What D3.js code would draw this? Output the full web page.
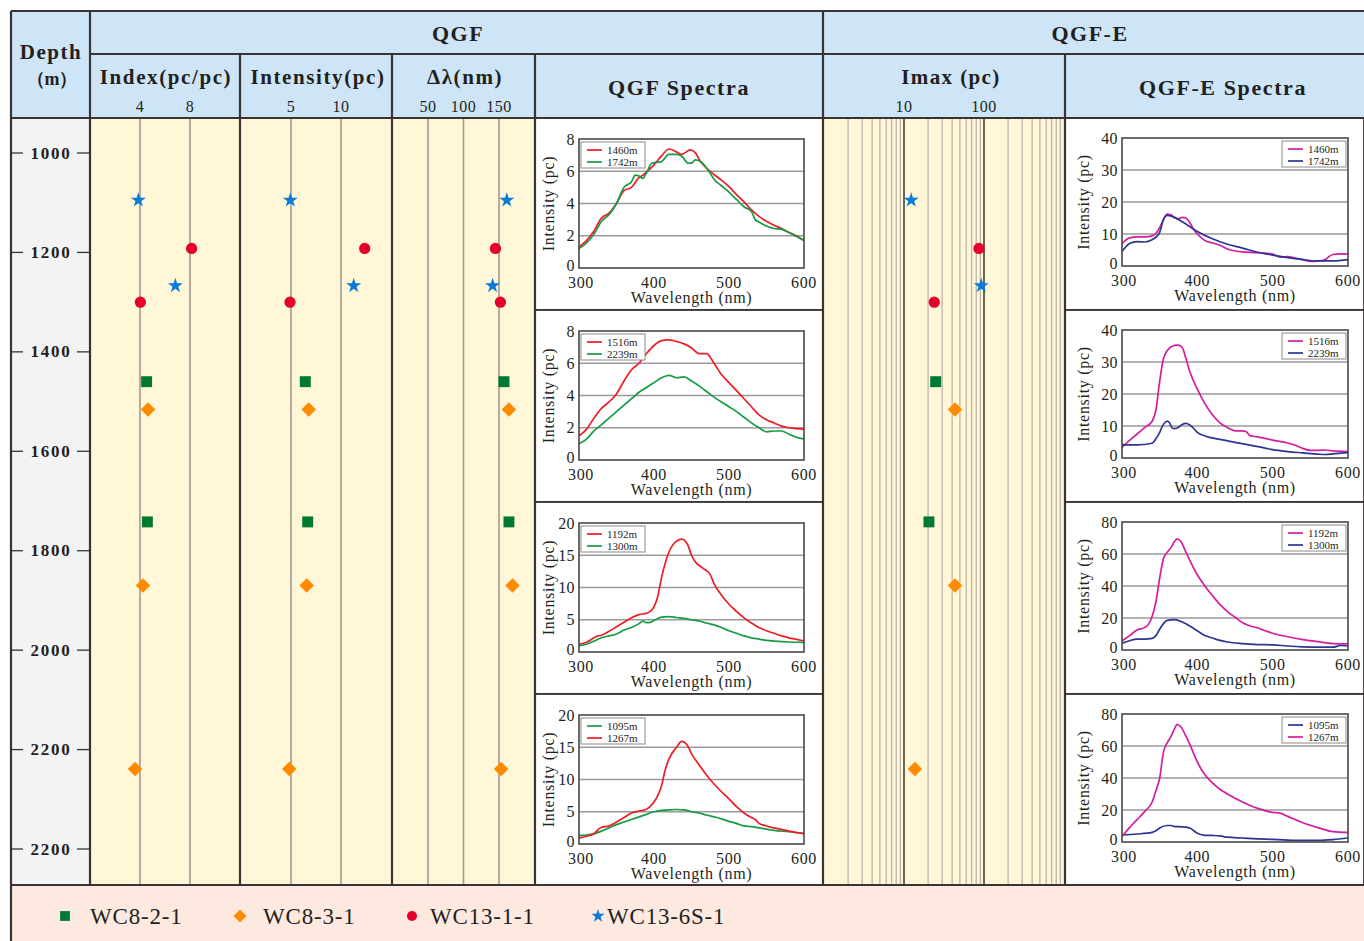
<!DOCTYPE html>
<html><head><meta charset="utf-8">
<script src="https://cdn.jsdelivr.net/npm/d3@7"></script>
<style>
body{margin:0;background:#fff}
svg{display:block}
text{font-family:"Liberation Serif","Times New Roman",serif;fill:#231f20}
</style>
</head><body>
<svg id="chart" width="1364" height="941"></svg>
<script>
// ---------- sample points (depth in m) ----------
const samples = ["WC8-2-1", "WC8-3-1", "WC13-1-1", "WC13-6S-1"];
const depths = [1095, 1192, 1267, 1300, 1460, 1516, 1742, 1870, 2239];
const pointSample = ["WC13-6S-1", "WC13-1-1", "WC13-6S-1", "WC13-1-1", "WC8-2-1", "WC8-3-1", "WC8-2-1", "WC8-3-1", "WC8-3-1"];
const indexValues = [3.87, 8.13, 6.83, 4.03, 4.53, 4.64, 4.59, 4.24, 3.6];
const intensityValues = [4.93, 12.37, 11.27, 4.9, 6.43, 6.77, 6.67, 6.57, 4.83];
const deltaLambdaValues = [161, 145, 141, 152, 157, 164, 164, 169, 153];
const imaxValues = [12.3, 86.6, 92.5, 23.9, 24.9, 43.4, 20.5, 43.4, 13.7];

// ---------- tick labels ----------
const depthTicks = [1000, 1200, 1400, 1600, 1800, 2000, 2200, 2400];
const depthTickLabels = ["1000", "1200", "1400", "1600", "1800", "2000", "2200", "2200"];
const indexTicks = [4, 8];
const intensityTicks = [5, 10];
const deltaLambdaTicks = [50, 100, 150];
const imaxTicks = [10, 100];
const wavelengthTicks = [300, 400, 500, 600];

// ---------- QGF spectra [wavelength nm, intensity pc] ----------
const qgf1460 = [[300,1.3],[310,1.7],[320,2.3],[330,3.1],[340,3.4],[350,4.0],[360,4.8],[370,5.0],[380,5.6],[385,5.75],[390,5.95],[400,6.4],[410,6.95],[420,7.38],[430,7.2],[437,7.05],[443,7.2],[448,7.32],[455,7.15],[462,6.6],[470,6.2],[480,5.8],[490,5.45],[500,5.04],[510,4.55],[520,4.1],[530,3.6],[540,3.2],[550,2.9],[560,2.65],[570,2.45],[580,2.2],[590,2.0],[600,1.7]];
const qgf1742 = [[300,1.2],[310,1.55],[320,2.1],[330,2.9],[340,3.3],[350,4.0],[360,5.0],[370,5.35],[375,5.76],[380,5.7],[385,5.55],[390,5.9],[397,6.5],[404,6.55],[410,6.6],[420,7.05],[430,7.05],[438,6.9],[445,6.5],[450,6.5],[455,6.7],[462,6.6],[470,6.2],[475,5.87],[480,5.5],[490,5.1],[500,4.7],[510,4.25],[520,3.8],[530,3.5],[535,3.0],[540,2.85],[550,2.6],[560,2.45],[570,2.4],[580,2.2],[590,1.95],[600,1.7]];
const qgf1516 = [[300,1.5],[310,1.9],[320,2.6],[330,3.2],[340,3.6],[350,4.1],[360,4.9],[370,5.6],[380,6.0],[390,6.6],[400,7.1],[410,7.4],[420,7.45],[430,7.35],[440,7.2],[450,6.95],[460,6.6],[470,6.6],[480,6.0],[490,5.3],[500,4.8],[510,4.3],[520,3.8],[530,3.3],[540,2.8],[550,2.5],[560,2.3],[570,2.1],[580,2.0],[590,1.95],[600,1.9]];
const qgf2239 = [[300,1.0],[310,1.3],[320,1.8],[330,2.2],[340,2.6],[350,3.0],[360,3.4],[370,3.8],[380,4.2],[390,4.5],[400,4.8],[410,5.1],[420,5.25],[430,5.1],[440,5.15],[450,4.9],[460,4.6],[470,4.25],[480,3.9],[490,3.6],[500,3.3],[510,3.0],[520,2.65],[530,2.3],[540,2.0],[550,1.75],[560,1.8],[570,1.8],[580,1.6],[590,1.4],[600,1.3]];
const qgf1192 = [[300,1.2],[310,1.5],[320,2.2],[325,2.5],[330,2.6],[340,3.2],[350,3.9],[360,4.6],[370,5.3],[380,5.8],[390,6.0],[395,6.3],[400,7.0],[405,8.6],[410,11.5],[415,13.8],[420,15.5],[430,17.2],[437,17.5],[445,16.6],[450,15.0],[455,14.0],[465,13.0],[475,12.0],[480,10.6],[490,8.8],[500,7.4],[510,6.3],[520,5.3],[530,4.5],[540,3.8],[550,3.3],[560,2.9],[570,2.5],[580,2.2],[590,1.95],[600,1.7]];
const qgf1300 = [[300,1.0],[310,1.2],[320,1.7],[330,2.2],[340,2.5],[350,2.8],[360,3.4],[370,3.8],[380,4.4],[385,4.8],[390,4.55],[395,4.6],[400,4.9],[410,5.4],[420,5.5],[430,5.35],[440,5.2],[450,5.0],[460,4.8],[470,4.5],[480,4.2],[490,3.8],[500,3.3],[510,2.9],[520,2.5],[530,2.2],[540,2.0],[550,1.8],[560,1.7],[580,1.55],[600,1.5]];
const qgf1095 = [[300,1.3],[310,1.4],[320,1.6],[330,2.0],[340,2.5],[350,3.0],[360,3.4],[370,3.8],[380,4.2],[390,4.6],[400,5.0],[410,5.2],[420,5.3],[430,5.35],[440,5.3],[450,5.0],[460,4.8],[470,4.5],[480,4.2],[490,3.9],[500,3.5],[510,3.2],[520,2.8],[530,2.7],[540,2.5],[550,2.3],[560,2.1],[580,1.9],[600,1.6]];
const qgf1267 = [[300,0.9],[310,1.2],[320,1.6],[325,2.2],[330,2.6],[340,2.8],[350,3.4],[360,4.1],[370,4.8],[380,5.1],[390,5.4],[400,6.5],[405,7.5],[410,9.0],[415,11.5],[420,13.2],[430,15.0],[437,15.9],[445,15.2],[450,14.0],[460,12.3],[470,10.7],[480,9.3],[490,8.1],[500,7.0],[510,5.8],[520,4.8],[530,4.1],[535,3.8],[540,3.2],[550,2.8],[560,2.5],[580,2.0],[600,1.6]];

// ---------- QGF-E spectra [wavelength nm, intensity pc] ----------
const qgfe1460 = [[300,7.0],[310,8.8],[320,9.1],[330,9.1],[340,9.4],[345,10.2],[350,12.0],[355,14.5],[360,16.2],[365,16.0],[370,15.0],[375,14.8],[380,15.2],[385,15.0],[390,13.5],[395,11.5],[400,10.0],[410,8.0],[420,7.2],[430,6.5],[440,5.3],[450,4.7],[460,4.4],[480,4.2],[490,4.0],[500,3.7],[510,2.8],[520,2.9],[530,2.5],[540,2.0],[550,1.4],[560,1.5],[570,2.0],[575,3.0],[580,3.6],[590,3.8],[600,3.7]];
const qgfe1742 = [[300,4.5],[310,7.0],[320,7.6],[330,7.5],[340,8.2],[345,9.0],[350,10.5],[355,14.5],[360,15.8],[370,15.2],[380,13.8],[390,12.3],[400,10.8],[420,8.5],[440,6.8],[460,5.6],[480,4.3],[500,3.4],[520,2.6],[540,2.0],[560,1.6],[580,1.6],[600,2.0]];
const qgfe1516 = [[300,3.3],[310,5.5],[320,7.5],[330,9.5],[340,11.5],[345,15.0],[350,24.0],[355,31.0],[360,33.5],[370,35.2],[375,35.3],[380,34.5],[385,31.0],[390,27.0],[400,21.5],[410,17.0],[420,13.5],[430,11.0],[440,9.5],[450,8.5],[460,8.5],[465,8.2],[470,7.0],[480,6.6],[500,5.6],[520,4.7],[530,4.0],[540,3.0],[550,2.4],[560,2.4],[570,2.5],[580,2.2],[600,2.0]];
const qgfe2239 = [[300,4.2],[320,4.1],[340,4.6],[345,6.0],[350,8.0],[355,10.5],[360,11.5],[363,11.0],[367,9.3],[370,9.2],[375,9.6],[380,10.5],[385,10.8],[390,10.3],[395,9.3],[400,8.0],[410,6.9],[430,5.8],[450,4.9],[470,4.0],[490,3.1],[500,2.6],[520,2.0],[540,1.6],[560,1.2],[570,1.1],[580,1.3],[600,1.7]];
const qgfe1192 = [[300,5.6],[310,9.0],[320,12.5],[330,14.0],[335,16.0],[340,21.0],[345,30.0],[350,45.0],[355,57.0],[360,61.0],[365,64.0],[370,68.0],[373,69.5],[378,68.0],[385,61.0],[390,56.0],[400,47.0],[410,40.0],[420,34.0],[430,28.5],[440,24.0],[450,20.5],[460,17.0],[470,15.0],[480,13.8],[490,12.0],[500,10.5],[520,8.3],[540,6.5],[560,5.2],[580,4.0],[600,3.8]];
const qgfe1300 = [[300,4.2],[310,5.8],[320,6.8],[330,6.8],[340,7.3],[345,9.0],[350,13.0],[355,16.5],[360,18.5],[370,19.0],[380,17.5],[390,15.0],[400,12.0],[410,9.0],[420,7.5],[430,6.0],[440,5.0],[460,4.0],[480,3.4],[500,3.2],[520,2.5],[540,2.0],[560,1.8],[580,1.8],[590,2.8],[600,2.5]];
const qgfe1095 = [[300,4.5],[320,5.0],[340,6.0],[345,7.0],[350,8.8],[360,10.3],[365,10.3],[370,9.6],[380,9.5],[385,9.3],[390,8.7],[400,5.5],[410,4.2],[420,4.1],[430,3.8],[440,3.0],[460,2.5],[480,2.0],[500,1.6],[520,1.2],[540,1.0],[560,1.0],[580,1.5],[600,2.5]];
const qgfe1267 = [[300,3.5],[310,9.0],[320,14.0],[330,19.0],[340,25.0],[345,32.0],[350,40.0],[355,56.0],[360,62.0],[365,66.0],[370,71.0],[373,73.5],[378,72.0],[385,66.0],[390,61.0],[400,50.0],[410,42.0],[420,37.0],[430,33.0],[440,30.0],[460,25.0],[480,21.0],[500,18.5],[510,18.0],[520,16.0],[540,12.0],[560,9.0],[580,6.5],[600,6.0]];

// ---------- palette ----------
const colHeader = "#cde5f7", colCream = "#fff7d7", colLegend = "#fde9df", colDepthBg = "#f3f3f3";
const ink = "#3a3333";
const sampleColor = {"WC8-2-1": "#007a33", "WC8-3-1": "#ff8a00", "WC13-1-1": "#e4002b", "WC13-6S-1": "#0a7bd8"};
const red = "#ee1d25", green = "#159a45", magenta = "#d61d9e", navy = "#2c3592";

const svg = d3.select("#chart");

// ---------- layout ----------
const X = {depth: [11, 90], index: [90, 240], inten: [240, 392], dl: [392, 535], qspec: [535, 823], imax: [823, 1065], espec: [1065, 1364]};
const yTop = 11, yRow1 = 54, yHead = 118, yBody = 885, yEnd = 941;

// backgrounds
svg.append("rect").attr("x", 11).attr("y", yTop).attr("width", 1353).attr("height", yHead - yTop).attr("fill", colHeader);
svg.append("rect").attr("x", X.depth[0]).attr("y", yHead).attr("width", X.depth[1] - X.depth[0]).attr("height", yBody - yHead).attr("fill", colDepthBg);
svg.append("rect").attr("x", X.index[0]).attr("y", yHead).attr("width", X.dl[1] - X.index[0]).attr("height", yBody - yHead).attr("fill", colCream);
svg.append("rect").attr("x", X.imax[0]).attr("y", yHead).attr("width", X.imax[1] - X.imax[0]).attr("height", yBody - yHead).attr("fill", colCream);
svg.append("rect").attr("x", 11).attr("y", yBody).attr("width", 1353).attr("height", yEnd - yBody).attr("fill", colLegend);

// ---------- scales ----------
const yDepth = d3.scaleLinear().domain([1000, 2400]).range([153, 849]);
const xIndex = d3.scaleLinear().domain([0, 12]).range([90, 240]);
const xInten = d3.scaleLinear().domain([0, 15]).range([241, 391]);
const xDl = d3.scaleLinear().domain([0, 200]).range([392.5, 534.5]);
const xImax = d3.scaleLog().domain([1, 1000]).range([824, 1064]);

// ---------- grid lines in the property columns ----------
const grid = svg.append("g");
function vgrid(scale, values, color, width) {
  grid.selectAll(null).data(values).enter().append("line")
    .attr("x1", d => scale(d)).attr("x2", d => scale(d))
    .attr("y1", yHead).attr("y2", yBody)
    .attr("stroke", color).attr("stroke-width", width);
}
vgrid(xIndex, indexTicks, "#a09a92", 1.6);
vgrid(xInten, intensityTicks, "#a09a92", 1.6);
vgrid(xDl, deltaLambdaTicks, "#a09a92", 1.6);
const imaxMinor = [];
[1, 10, 100].forEach(dec => { for (let m = 2; m <= 9; m++) imaxMinor.push(m * dec); });
vgrid(xImax, imaxMinor, "#bdb5a6", 1.3);
vgrid(xImax, imaxTicks, "#5a5450", 1.8);

// ---------- header text ----------
const head = svg.append("g");
function htext(x, y, s, size, bold, spacing) {
  head.append("text").attr("x", x).attr("y", y).attr("text-anchor", "middle")
    .attr("font-size", size).attr("font-weight", bold ? "bold" : "normal")
    .attr("letter-spacing", spacing || 0).text(s);
}
htext(51, 59, "Depth", 21, true, 1.5);
htext(52, 85, "（m）", 18, true, 0);
htext(458, 41, "QGF", 22, true, 1.5);
htext(1090, 41, "QGF-E", 22, true, 1.5);
htext(166, 84, "Index(pc/pc)", 21, true, 1.6);
htext(318, 84, "Intensity(pc)", 21, true, 1.6);
htext(465, 84, "Δλ(nm)", 21, true, 1.6);
htext(679, 95, "QGF Spectra", 22, true, 1.6);
htext(951, 84, "Imax (pc)", 21, true, 1.4);
htext(1223, 95, "QGF-E Spectra", 22, true, 1.6);
function htick(scale, values) {
  values.forEach(v => htext(scale(v), 112, String(v), 16, false, 0.5));
}
htick(xIndex, indexTicks);
htick(xInten, intensityTicks);
htick(xDl, deltaLambdaTicks);
htick(xImax, imaxTicks);

// ---------- depth axis ----------
const dAxis = svg.append("g");
depthTicks.forEach((d, i) => {
  const y = yDepth(d);
  dAxis.append("line").attr("x1", 12).attr("x2", 23).attr("y1", y).attr("y2", y).attr("stroke", ink).attr("stroke-width", 1.3);
  dAxis.append("line").attr("x1", 77).attr("x2", 90).attr("y1", y).attr("y2", y).attr("stroke", ink).attr("stroke-width", 1.3);
  dAxis.append("text").attr("x", 51).attr("y", y + 5.5).attr("text-anchor", "middle")
    .attr("font-size", 17).attr("font-weight", "bold").attr("letter-spacing", 1.8).text(depthTickLabels[i]);
});

// ---------- sample markers ----------
const symType = {"WC8-2-1": d3.symbolSquare, "WC8-3-1": d3.symbolSquare, "WC13-1-1": d3.symbolCircle, "WC13-6S-1": d3.symbolStar};
const symSize = {"WC8-2-1": 120, "WC8-3-1": 105, "WC13-1-1": 100, "WC13-6S-1": 70};
const symRot = {"WC8-2-1": 0, "WC8-3-1": 45, "WC13-1-1": 0, "WC13-6S-1": 0};
function drawMarkers(scale, values, scaleFactor) {
  const g = svg.append("g");
  depths.forEach((d, i) => {
    const s = pointSample[i];
    g.append("path")
      .attr("d", d3.symbol().type(symType[s]).size(symSize[s] * (scaleFactor || 1))())
      .attr("transform", `translate(${scale(values[i])},${yDepth(d)}) rotate(${symRot[s]})`)
      .attr("fill", sampleColor[s]);
  });
}
drawMarkers(xIndex, indexValues);
drawMarkers(xInten, intensityValues);
drawMarkers(xDl, deltaLambdaValues);
drawMarkers(xImax, imaxValues);

// ---------- spectra panels ----------
const panelBounds = [[118, 310], [310, 502], [502, 694], [694, 885]];
function spectraPanel(col, bi, cfg) {
  const [px0, px1] = X[col];
  const [py0, py1] = panelBounds[bi];
  const g = svg.append("g");
  g.append("rect").attr("x", px0).attr("y", py0).attr("width", px1 - px0).attr("height", py1 - py0)
    .attr("fill", "#fff").attr("stroke", ink).attr("stroke-width", 1.8);
  const left = px0 + cfg.left, right = px0 + cfg.right, top = py0 + cfg.top, bottom = py0 + cfg.bottom;
  const x = d3.scaleLinear().domain([300, 600]).range([left, right]);
  const y = d3.scaleLinear().domain([0, cfg.yTicks[cfg.yTicks.length - 1]]).range([bottom, top]);
  // horizontal grid
  g.selectAll(null).data(cfg.yTicks.slice(1, -1)).enter().append("line")
    .attr("x1", left).attr("x2", right).attr("y1", d => y(d)).attr("y2", d => y(d))
    .attr("stroke", "#9a9a9a").attr("stroke-width", 1.5);
  // curves
  const line = d3.line().x(d => x(d[0])).y(d => y(d[1])).curve(d3.curveMonotoneX);
  cfg.series.forEach(s => {
    g.append("path").attr("d", line(s.data)).attr("fill", "none").attr("stroke", s.color).attr("stroke-width", 1.7);
  });
  // plot frame
  g.append("rect").attr("x", left).attr("y", top).attr("width", right - left).attr("height", bottom - top)
    .attr("fill", "none").attr("stroke", "#4a4646").attr("stroke-width", 1.6);
  // tick labels (the zero label sits a little high so it clears the 300 label)
  cfg.yTicks.forEach(t => g.append("text").attr("x", left - 4).attr("y", y(t) + (t === 0 ? 3 : 5.5)).attr("text-anchor", "end")
    .attr("font-size", 16).attr("letter-spacing", 0.4).text(t));
  wavelengthTicks.forEach(t => g.append("text").attr("x", x(t) + (t === 300 ? 2 : 0)).attr("y", bottom + 20)
    .attr("text-anchor", "middle").attr("font-size", 16).attr("letter-spacing", 0.6).text(t));
  g.append("text").attr("x", (left + right) / 2).attr("y", bottom + 35).attr("text-anchor", "middle")
    .attr("font-size", 16).attr("letter-spacing", 0.7).text("Wavelength (nm)");
  g.append("text").attr("transform", `translate(${left - cfg.ylabOff},${(top + bottom) / 2}) rotate(-90)`)
    .attr("text-anchor", "middle").attr("font-size", 16).attr("letter-spacing", 0.7).text("Intensity (pc)");
  // legend box
  const lw = 64, lh = 26;
  const lx = cfg.legendRight ? right - lw - 2 : left + 2, ly = top + 3;
  g.append("rect").attr("x", lx).attr("y", ly).attr("width", lw).attr("height", lh)
    .attr("fill", "#fff").attr("stroke", "#8a8a8a").attr("stroke-width", 1);
  cfg.series.forEach((s, i) => {
    const yy = ly + 8 + i * 12;
    g.append("line").attr("x1", lx + 6).attr("x2", lx + 21).attr("y1", yy).attr("y2", yy)
      .attr("stroke", s.color).attr("stroke-width", 1.7);
    g.append("text").attr("x", lx + 26).attr("y", yy + 3.8).attr("font-size", 11).text(s.label);
  });
}
const qCfg = {left: 44, right: 269, top: 21, bottom: 150, ylabOff: 25, legendRight: false};
const eCfg = {left: 57, right: 283, top: 20, bottom: 148, ylabOff: 33, legendRight: true};
spectraPanel("qspec", 0, {...qCfg, yTicks: [0, 2, 4, 6, 8], series: [{data: qgf1460, color: red, label: "1460m"}, {data: qgf1742, color: green, label: "1742m"}]});
spectraPanel("qspec", 1, {...qCfg, yTicks: [0, 2, 4, 6, 8], series: [{data: qgf1516, color: red, label: "1516m"}, {data: qgf2239, color: green, label: "2239m"}]});
spectraPanel("qspec", 2, {...qCfg, yTicks: [0, 5, 10, 15, 20], series: [{data: qgf1192, color: red, label: "1192m"}, {data: qgf1300, color: green, label: "1300m"}]});
spectraPanel("qspec", 3, {...qCfg, yTicks: [0, 5, 10, 15, 20], series: [{data: qgf1095, color: green, label: "1095m"}, {data: qgf1267, color: red, label: "1267m"}]});
spectraPanel("espec", 0, {...eCfg, yTicks: [0, 10, 20, 30, 40], series: [{data: qgfe1460, color: magenta, label: "1460m"}, {data: qgfe1742, color: navy, label: "1742m"}]});
spectraPanel("espec", 1, {...eCfg, yTicks: [0, 10, 20, 30, 40], series: [{data: qgfe1516, color: magenta, label: "1516m"}, {data: qgfe2239, color: navy, label: "2239m"}]});
spectraPanel("espec", 2, {...eCfg, yTicks: [0, 20, 40, 60, 80], series: [{data: qgfe1192, color: magenta, label: "1192m"}, {data: qgfe1300, color: navy, label: "1300m"}]});
spectraPanel("espec", 3, {...eCfg, yTicks: [0, 20, 40, 60, 80], series: [{data: qgfe1095, color: navy, label: "1095m"}, {data: qgfe1267, color: magenta, label: "1267m"}]});

// ---------- table rules ----------
const rules = svg.append("g").attr("stroke", ink).attr("stroke-width", 2.2);
function hl(x1, x2, y) { rules.append("line").attr("x1", x1).attr("x2", x2).attr("y1", y).attr("y2", y); }
function vl(x, y1, y2) { rules.append("line").attr("x1", x).attr("x2", x).attr("y1", y1).attr("y2", y2); }
hl(11, 1364, yTop);
hl(90, 1364, yRow1);
hl(11, 1364, yHead);
hl(11, 1364, yBody);
vl(11, yTop, yEnd);
vl(90, yTop, yBody);
vl(823, yTop, yBody);
[240, 392, 535, 1065].forEach(x => vl(x, yRow1, yBody));

// ---------- sample legend ----------
const legendX = [65, 240, 412, 598];
const legendTextX = [90, 263, 430, 607];
const lg = svg.append("g");
samples.forEach((s, i) => {
  lg.append("path").attr("d", d3.symbol().type(symType[s]).size(symSize[s] * 0.8)())
    .attr("transform", `translate(${legendX[i]},916) rotate(${symRot[s]})`).attr("fill", sampleColor[s]);
  lg.append("text").attr("x", legendTextX[i]).attr("y", 924).attr("font-size", 23).attr("letter-spacing", 0.8).text(s);
});
</script>
</body></html>
